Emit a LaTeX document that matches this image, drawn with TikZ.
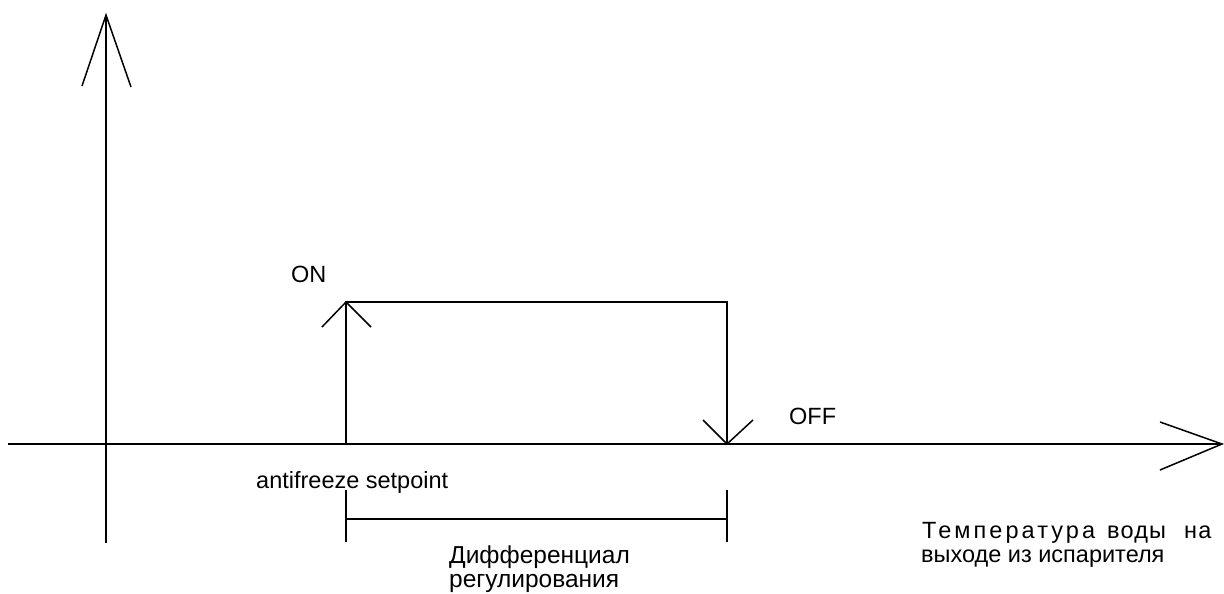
\documentclass[tikz,border=0pt]{standalone}
\usepackage{fontspec}
\setmainfont{Liberation Sans}
\newfontfamily\spacedfont[LetterSpace=13]{Liberation Sans}
\newfontfamily\lightspacedfont[LetterSpace=5]{Liberation Sans}
\begin{document}
\begin{tikzpicture}[x=1pt,y=-1pt,
  axis/.style={line width=2pt,line cap=butt},
  head/.style={line width=1.5pt},
  lbl/.style={inner sep=0pt,anchor=base west,font=\fontsize{23.5}{28}\selectfont},
  biglbl/.style={lbl,font=\fontsize{24.5}{28}\selectfont},
  splbl/.style={lbl,font=\fontsize{23.5}{28}\spacedfont},
  lslbl/.style={lbl,font=\fontsize{23.5}{28}\lightspacedfont}]
\useasboundingbox (0,0) rectangle (1224,594);
% axes
\coordinate (yb) at (106,543);
\coordinate (yt) at (106,15);
\coordinate (xl) at (8,444);
\coordinate (xr) at (1222,444);
\draw[axis] (yb) -- (yt);
\draw[axis] (xl) -- (xr);
\draw[head] (82,86) -- (yt) -- (131,87);
\draw[head] (1160,422) -- (xr) -- (1160,470);
% hysteresis loop
\coordinate (onb) at (346,444);
\coordinate (ont) at (346,302);
\coordinate (offt) at (727,302);
\coordinate (offb) at (727,444);
\draw[axis] (onb) -- (ont) -- (offt) -- (offb);
\draw[head] (322,327) -- (ont) -- (371,327);
\draw[head] (703,420) -- (offb) -- (753,420);
% dimension
\coordinate (d1t) at (346,490);
\coordinate (d1b) at (346,542);
\coordinate (d2t) at (727,490);
\coordinate (d2b) at (727,542);
\coordinate (d1m) at (346,519);
\coordinate (d2m) at (727,519);
\draw[axis] (d1t) -- (d1b);
\draw[axis] (d2t) -- (d2b);
\draw[axis] (d1m) -- (d2m);
% labels
\node[lbl] (on) at (291,282) {ON};
\node[lbl] (off) at (789,424) {OFF};
\node[lbl] (afs) at (256,488) {antifreeze setpoint};
\node[biglbl] (dif1) at (449,563) {Дифференциал};
\node[biglbl] (dif2) at (449,587) {регулирования};
\node[splbl] (t1a) at (922,538) {Температура};
\node[lslbl] (t1b) at (1107,538) {воды};
\node[lslbl] (t1c) at (1184,538) {на};
\node[lbl] (t2) at (921,562) {выходе из испарителя};
\end{tikzpicture}
\end{document}
